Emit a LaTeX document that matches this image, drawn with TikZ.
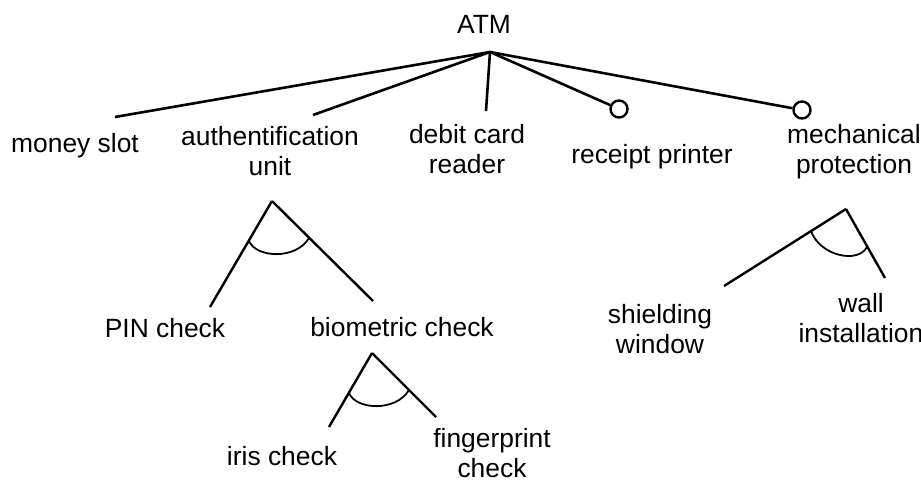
\documentclass[tikz,border=0pt]{standalone}
\usepackage{fontspec}
\setmainfont{Liberation Sans}
\begin{document}
\begin{tikzpicture}[x=1pt,y=-1pt,
  lbl/.style={anchor=base,inner sep=0pt,align=center,
    font=\fontsize{26.4}{30}\selectfont},
  topline/.style={line width=2.6pt},
  leg/.style={line width=2.4pt},
  andarc/.style={line width=1.8pt},
  optdot/.style={circle,draw,line width=2.4pt,minimum size=17pt,inner sep=0pt}]
\useasboundingbox (0,0) rectangle (921,483);

% top level (two-line labels are placed by their last baseline)
\node[lbl] (atm) at (484,33) {ATM};
\coordinate (root) at (490,52);
\node[lbl] (money) at (75,152) {money slot};
\node[lbl] (auth) at (270,175) {authentification\\unit};
\node[lbl] (debit) at (467,173) {debit card\\reader};
\node[lbl] (receipt) at (652,163) {receipt printer};
\node[lbl] (mech) at (854,173) {mechanical\\protection};

\coordinate (moneyEnd) at (115,117);
\coordinate (authEnd) at (313,115);
\coordinate (debitEnd) at (486,111);
\node[optdot] (receiptDot) at (619,109) {};
\node[optdot] (mechDot) at (802,110) {};

\draw[topline] (root) -- (moneyEnd);
\draw[topline] (root) -- (authEnd);
\draw[topline] (root) -- (debitEnd);
\draw[topline] (root) -- (receiptDot);
\draw[topline] (root) -- (mechDot);

% authentification unit decomposition
\coordinate (authTop) at (272,201);
\coordinate (pinEnd) at (210,307);
\coordinate (bioEnd) at (373,301);
\node[lbl] (pin) at (165,337) {PIN check};
\node[lbl] (bio) at (402,336) {biometric check};
\draw[leg] (authTop) -- (pinEnd);
\draw[leg] (authTop) -- (bioEnd);
\draw[andarc] (249,241) .. controls (256,258) and (296,260) .. (309,238);

% biometric check decomposition
\coordinate (bioTop) at (372,353);
\coordinate (irisEnd) at (329,427);
\coordinate (fingerEnd) at (436,417);
\node[lbl] (iris) at (282,465) {iris check};
\node[lbl] (finger) at (492,477) {fingerprint\\check};
\draw[leg] (bioTop) -- (irisEnd);
\draw[leg] (bioTop) -- (fingerEnd);
\draw[andarc] (349,393) .. controls (356,410) and (396,412) .. (409,390);

% mechanical protection decomposition
\coordinate (mechTop) at (846,209);
\coordinate (shieldEnd) at (724,286);
\coordinate (wallEnd) at (885,278);
\node[lbl] (shield) at (660,353) {shielding\\window};
\node[lbl] (wall) at (861,342) {wall\\installation};
\draw[leg] (mechTop) -- (shieldEnd);
\draw[leg] (mechTop) -- (wallEnd);
\draw[andarc] (811,231) .. controls (820,256) and (858,264) .. (867,247);
\end{tikzpicture}
\end{document}
